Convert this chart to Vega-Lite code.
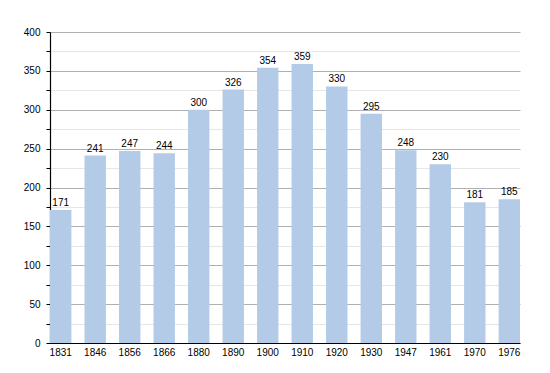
{
  "$schema": "https://vega.github.io/schema/vega-lite/v6.json",
  "width": 470,
  "height": 311,
  "autosize": {"type": "none"},
  "padding": {"left": 50, "top": 32, "right": 30, "bottom": 30},
  "background": "white",
  "data": {"values": [
    {"year": "1831", "pop": 171},
    {"year": "1846", "pop": 241},
    {"year": "1856", "pop": 247},
    {"year": "1866", "pop": 244},
    {"year": "1880", "pop": 300},
    {"year": "1890", "pop": 326},
    {"year": "1900", "pop": 354},
    {"year": "1910", "pop": 359},
    {"year": "1920", "pop": 330},
    {"year": "1930", "pop": 295},
    {"year": "1947", "pop": 248},
    {"year": "1961", "pop": 230},
    {"year": "1970", "pop": 181},
    {"year": "1976", "pop": 185}
  ]},
  "config": {
    "view": {"stroke": null},
    "font": "Liberation Sans",
    "axis": {"labelFont": "Liberation Sans", "labelFontSize": 10, "labelColor": "#000"}
  },
  "encoding": {
    "x": {
      "field": "year", "type": "ordinal", "sort": null,
      "scale": {"paddingInner": 0.38, "paddingOuter": 0},
      "axis": {"title": null, "labelAngle": 0, "ticks": false, "domainColor": "#000", "domainWidth": 1.2, "labelPadding": 4, "grid": false}
    },
    "y": {
      "field": "pop", "type": "quantitative",
      "scale": {"domain": [0, 400], "nice": false},
      "axis": {
        "title": null,
        "values": [0,25,50,75,100,125,150,175,200,225,250,275,300,325,350,375,400],
        "labelExpr": "datum.value % 50 === 0 ? datum.label : ''",
        "grid": true,
        "gridColor": {"condition": {"test": "datum.value % 50 === 0", "value": "#b0b0b0"}, "value": "#e6e6e6"},
        "domainColor": "#000",
        "domainWidth": 1.2,
        "tickColor": "#000",
        "tickSize": 4,
        "labelPadding": 6
      }
    }
  },
  "layer": [
    {"mark": {"type": "bar", "color": "#b3cbe6"}},
    {"mark": {"type": "text", "dy": -7, "fontSize": 10, "color": "#000"}, "encoding": {"text": {"field": "pop", "type": "quantitative"}}}
  ]
}
